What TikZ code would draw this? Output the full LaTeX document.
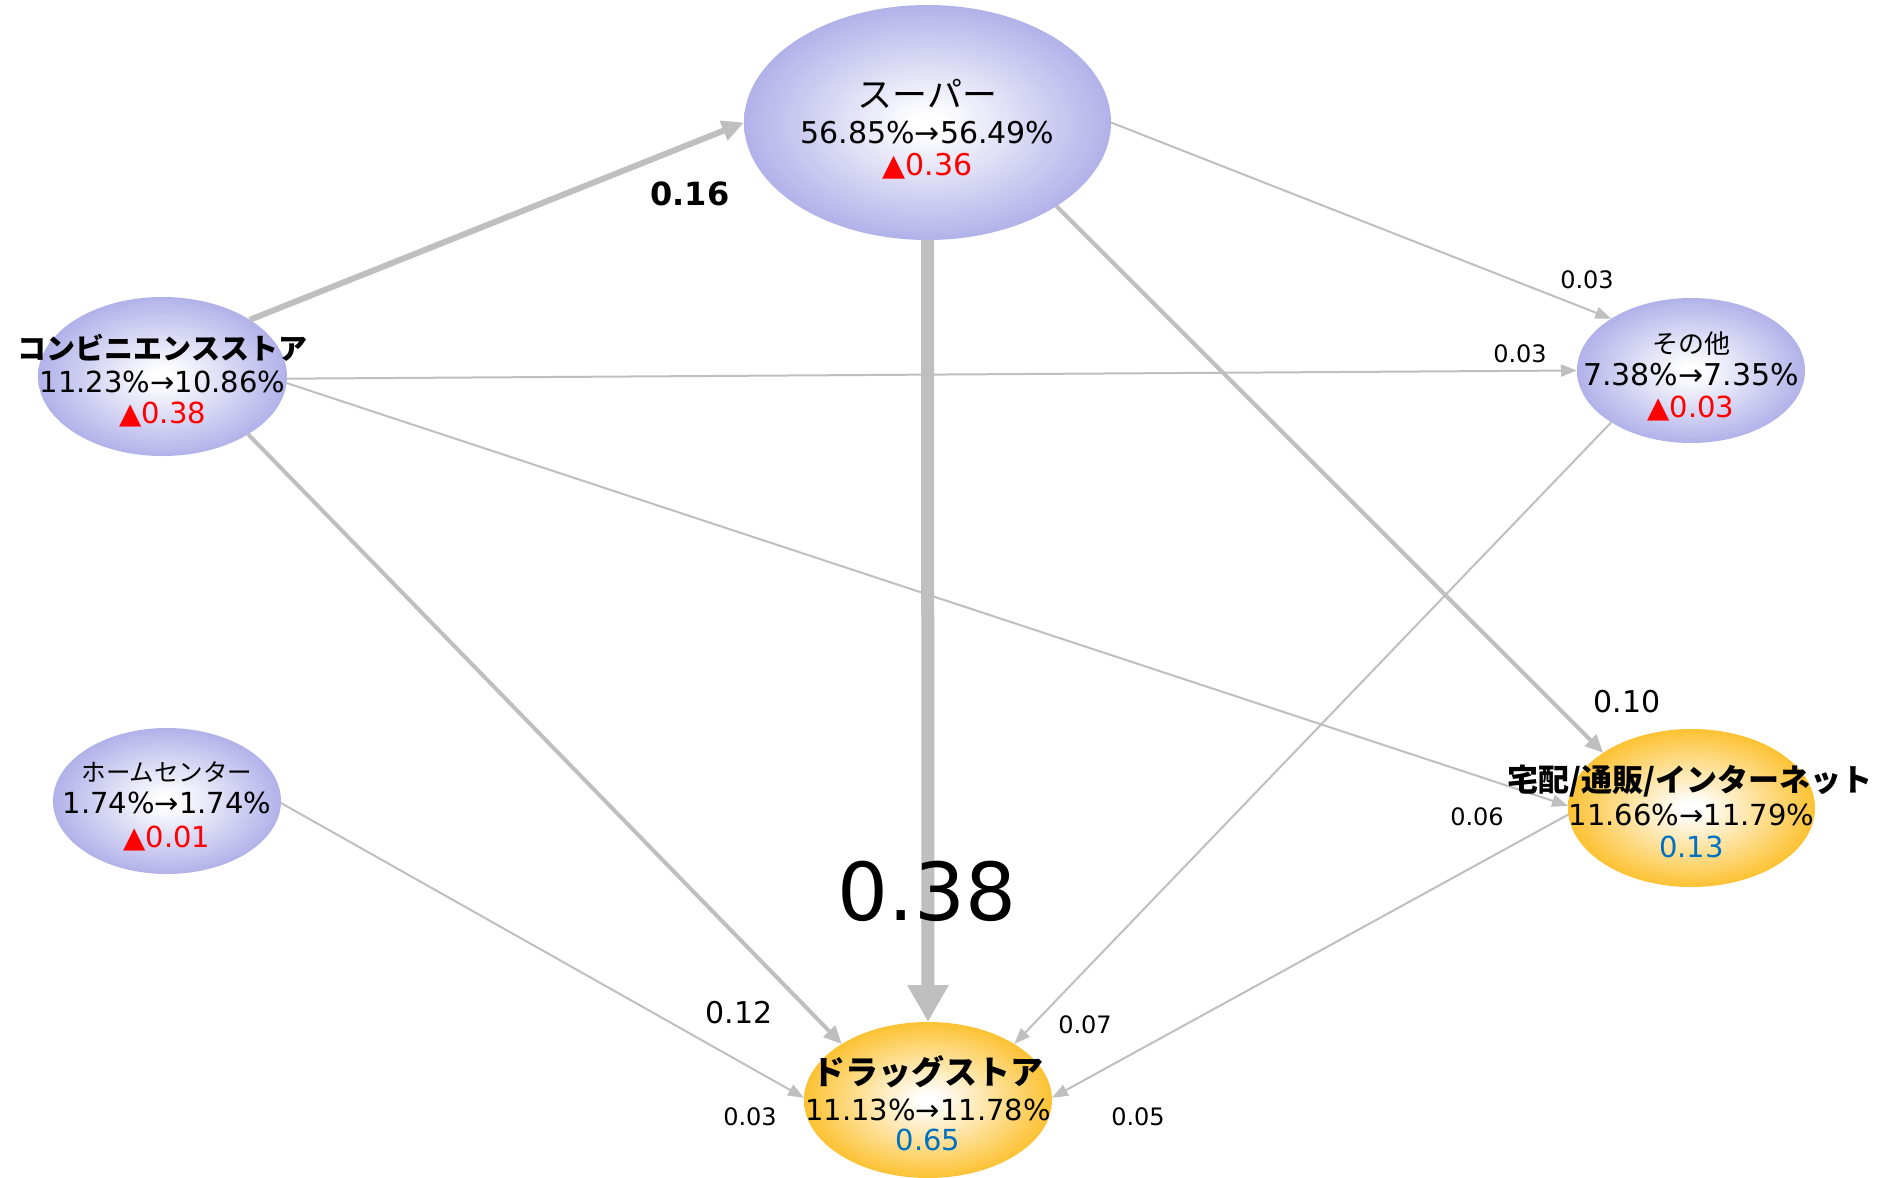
\documentclass[tikz,border=0pt]{standalone}
\usepackage{fontspec}
\setmainfont{DejaVu Sans}
\newfontfamily\jp{Noto Sans CJK JP}
\usetikzlibrary{shapes.geometric,arrows.meta}
\definecolor{lav}{RGB}{164,164,230}
\definecolor{org}{RGB}{252,186,24}
\definecolor{edgegray}{RGB}{191,191,191}
\definecolor{redtxt}{RGB}{255,0,0}
\definecolor{bluetxt}{RGB}{0,112,192}
\pgfdeclareradialshading{lavshade}{\pgfpoint{0bp}{0bp}}{color(0bp)=(white); color(2bp)=(white); color(29bp)=(lav); color(50bp)=(lav)}
\pgfdeclareradialshading{orgshade}{\pgfpoint{0bp}{0bp}}{color(0bp)=(white); color(2bp)=(white); color(28bp)=(org); color(50bp)=(org)}
\newcommand{\fsz}[1]{\fontsize{#1}{#1}\selectfont}
\begin{document}
\begin{tikzpicture}[x=1pt,y=-1pt,
  bub/.style={ellipse, inner sep=0pt, outer sep=0pt, draw=none},
  lavbub/.style={bub, shade, shading=lavshade},
  orgbub/.style={bub, shade, shading=orgshade},
  txt/.style={anchor=base, inner sep=0pt, outer sep=0pt, text=black},
  edgeS/.style={draw=edgegray, line width=2pt, -{Triangle[length=16pt,width=12pt]}},
  edgeM/.style={draw=edgegray, line width=4pt, -{Triangle[length=18pt,width=16pt]}},
  edgeL/.style={draw=edgegray, line width=6pt, -{Triangle[length=22pt,width=20pt]}},
  edgeXL/.style={draw=edgegray, line width=13pt, -{Triangle[length=37pt,width=39pt]}},
  lblS/.style={txt, font=\fsz{24}},
  lblM/.style={txt, font=\fsz{30}},
  numtxt/.style={txt, font=\fsz{29}},
  redline/.style={txt, font=\fsz{29}, text=redtxt},
  blueline/.style={txt, font=\fsz{29}, text=bluetxt}
]
\useasboundingbox (0,0) rectangle (1880,1178);
\fill[white] (0,0) rectangle (1880,1178);

% bubbles
\node[lavbub, minimum width=367pt, minimum height=235pt] (sup) at (927.5,122.5) {};
\node[lavbub, minimum width=249pt, minimum height=159pt] (kon) at (162.5,376.5) {};
\node[lavbub, minimum width=228pt, minimum height=145pt] (sono) at (1691,370.5) {};
\node[orgbub, minimum width=247pt, minimum height=158pt] (tak) at (1691.5,808) {};
\node[orgbub, minimum width=248pt, minimum height=156pt] (drug) at (928,1100) {};
\node[lavbub, minimum width=228pt, minimum height=146pt] (home) at (167,801) {};

% edges
\draw[edgeL] (kon.33) -- (sup.180);
\draw[edgeXL] (sup.270) -- (drug.90);
\draw[edgeM] (sup.-33) -- (tak.148);
\draw[edgeS] (sup.0) -- (sono.147);
\draw[edgeS] (kon.-1) -- (sono.180);
\draw[edgeS] (kon.-3) -- (tak.179);
\draw[edgeM] (kon.-34) -- (drug.147);
\draw[edgeS] (sono.213) -- (drug.33);
\draw[edgeS] (tak.183) -- (drug.1);
\draw[edgeS] (home.-1) -- (drug.179);

% edge labels
\node[txt, font=\fsz{80}] (l38) at (927,920) {0.38};
\node[txt, font=\bfseries\fsz{32}] (l16) at (690,205) {0.16};
\node[lblM] (l10) at (1627,712) {0.10};
\node[lblS] (l03a) at (1587,288) {0.03};
\node[lblS] (l03b) at (1520,362) {0.03};
\node[lblS] (l06) at (1477,825) {0.06};
\node[lblM] (l12) at (739,1023) {0.12};
\node[lblS] (l07) at (1085,1033) {0.07};
\node[lblS] (l03c) at (750,1125) {0.03};
\node[lblS] (l05) at (1138,1125) {0.05};

% node texts
\node[txt, font=\jp\fsz{35}] (supT) at (927.5,107) {スーパー};
\node[txt, font=\fsz{30}] (supN) at (927.5,143) {56.85\%→56.49\%};
\node[txt, font=\fsz{30}, text=redtxt] (supD) at (927.5,175) {▲0.36};

\node[txt, font=\jp\bfseries\fsz{29}] (konT) at (162.5,359) {コンビニエンスストア};
\node[numtxt] (konN) at (162.5,392) {11.23\%→10.86\%};
\node[redline] (konD) at (162.5,423) {▲0.38};

\node[txt, font=\jp\fsz{26}] (sonoT) at (1691,353) {その他};
\node[txt, font=\fsz{30}] (sonoN) at (1691,385) {7.38\%→7.35\%};
\node[redline] (sonoD) at (1691,417) {▲0.03};

\node[txt, font=\jp\bfseries\fsz{31}] (takT) at (1690,791) {宅配/通販/インターネット};
\node[numtxt] (takN) at (1691.5,825) {11.66\%→11.79\%};
\node[blueline] (takD) at (1691.5,857) {0.13};

\node[txt, font=\jp\bfseries\fsz{33}] (drugT) at (928,1084) {ドラッグストア};
\node[numtxt] (drugN) at (928,1120) {11.13\%→11.78\%};
\node[blueline] (drugD) at (928,1150) {0.65};

\node[txt, font=\jp\fsz{24.5}] (homeT) at (167,781) {ホームセンター};
\node[numtxt] (homeN) at (167,813) {1.74\%→1.74\%};
\node[redline] (homeD) at (167,847) {▲0.01};
\end{tikzpicture}
\end{document}
